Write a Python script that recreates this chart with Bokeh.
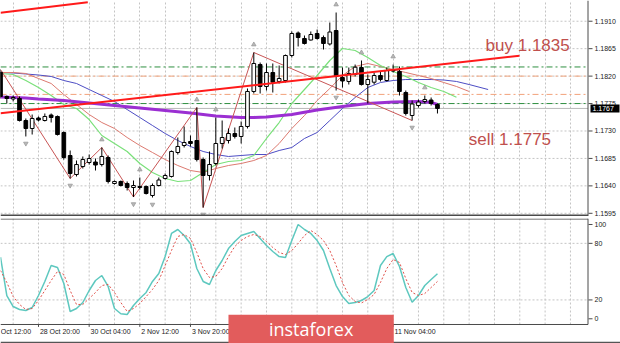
from bokeh.plotting import figure
from bokeh.models import Range1d, FixedTicker
from bokeh.layouts import column
from bokeh.embed import file_html
from bokeh.resources import INLINE
from bokeh.core.properties import value

# ---------------- data (EURUSD H4) ----------------
bars = list(range(-6, 64))
opens = [1.18264, 1.17866, 1.17825, 1.17833, 1.17472, 1.17341, 1.17513, 1.17472, 1.17562, 1.17538,
         1.17275, 1.16898, 1.16586, 1.16718, 1.16783, 1.16791, 1.16750, 1.16865, 1.16439, 1.16472,
         1.16439, 1.16373, 1.16390, 1.16390, 1.16242, 1.16406, 1.16521, 1.16554, 1.16947, 1.17062,
         1.17128, 1.17144, 1.16832, 1.16570, 1.16767, 1.17095, 1.17144, 1.17259, 1.17210, 1.17374,
         1.17948, 1.18390, 1.18030, 1.18259, 1.18112, 1.18128, 1.18538, 1.18907, 1.18817, 1.18792,
         1.18899, 1.18833, 1.18727, 1.18948, 1.18177, 1.18112, 1.18226, 1.18341, 1.18062, 1.18100,
         1.18210, 1.18128, 1.18308, 1.18276, 1.17931, 1.17554, 1.17718, 1.17784, 1.17808, 1.17734]
highs = [1.18308, 1.17882, 1.17882, 1.17866, 1.17505, 1.17570, 1.17538, 1.17587, 1.17587, 1.17554,
         1.17292, 1.16980, 1.16816, 1.16882, 1.16914, 1.16849, 1.17029, 1.16898, 1.16488, 1.16488,
         1.16472, 1.16488, 1.16537, 1.16406, 1.16439, 1.16537, 1.16603, 1.16980, 1.17193, 1.17374,
         1.17226, 1.17685, 1.16865, 1.16964, 1.17521, 1.17472, 1.17341, 1.17357, 1.17456, 1.17997,
         1.18587, 1.18423, 1.18407, 1.18407, 1.18374, 1.18554, 1.18932, 1.18932, 1.18866, 1.18932,
         1.18964, 1.18866, 1.19079, 1.19243, 1.18341, 1.18341, 1.18390, 1.18456, 1.18226, 1.18259,
         1.18276, 1.18341, 1.18390, 1.18358, 1.17964, 1.17800, 1.17816, 1.17882, 1.17849, 1.17751]
lows = [1.17833, 1.17751, 1.17784, 1.17456, 1.17210, 1.17242, 1.17456, 1.17456, 1.17439, 1.17226,
        1.16832, 1.16521, 1.16554, 1.16685, 1.16750, 1.16652, 1.16718, 1.16439, 1.16422, 1.16390,
        1.16324, 1.16217, 1.16340, 1.16258, 1.16209, 1.16390, 1.16504, 1.16537, 1.16914, 1.17029,
        1.17046, 1.16800, 1.16045, 1.16488, 1.16734, 1.17013, 1.17095, 1.17177, 1.17095, 1.17341,
        1.17915, 1.17915, 1.17964, 1.17931, 1.18079, 1.18095, 1.18505, 1.18686, 1.18718, 1.18784,
        1.18800, 1.18636, 1.18702, 1.17964, 1.18013, 1.18062, 1.18194, 1.18046, 1.17751, 1.18062,
        1.18112, 1.18112, 1.18259, 1.17882, 1.17554, 1.17472, 1.17685, 1.17751, 1.17718, 1.17587]
closes = [1.17866, 1.17833, 1.17849, 1.17472, 1.17341, 1.17505, 1.17480, 1.17538, 1.17521, 1.17242,
          1.16865, 1.16603, 1.16750, 1.16832, 1.16849, 1.16742, 1.16882, 1.16472, 1.16472, 1.16406,
          1.16373, 1.16406, 1.16373, 1.16275, 1.16406, 1.16496, 1.16570, 1.16964, 1.17046, 1.17111,
          1.17095, 1.16832, 1.16570, 1.16750, 1.17095, 1.17193, 1.17259, 1.17210, 1.17374, 1.17948,
          1.18407, 1.18030, 1.18259, 1.18100, 1.18161, 1.18538, 1.18899, 1.18833, 1.18735, 1.18882,
          1.18817, 1.18735, 1.18923, 1.18194, 1.18120, 1.18243, 1.18346, 1.18062, 1.18144, 1.18210,
          1.18144, 1.18292, 1.18284, 1.17948, 1.17587, 1.17743, 1.17775, 1.17816, 1.17751, 1.17670]

# Alligator (lips / teeth / jaw, shifted forward) and slow MA
lips_bars = [-6, -4, -2, 0, 2, 4, 6, 8, 10, 12, 14, 16, 18, 20, 22, 24, 26, 28, 30, 32, 34, 36,
             38, 40, 42, 44, 46, 48, 50, 52, 54, 56, 58, 60, 62, 64, 66]
lips = [1.18243, 1.18226, 1.18128, 1.18013, 1.17882, 1.17734, 1.17669, 1.17488, 1.17226, 1.17095,
        1.16964, 1.16767, 1.16619, 1.16521, 1.16472, 1.16488, 1.16619, 1.16750, 1.16800, 1.16816,
        1.16898, 1.17177, 1.17439, 1.17751, 1.17980, 1.18210, 1.18456, 1.18653, 1.18620, 1.18505,
        1.18374, 1.18276, 1.18194, 1.18095, 1.18013, 1.17948, 1.17854]
teeth_bars = [-6, -4, -2, 0, 2, 4, 6, 8, 10, 12, 14, 16, 18, 20, 22, 24, 26, 28, 30, 32, 34, 36,
              38, 40, 42, 44, 46, 48, 50, 52, 54, 56, 58, 60, 62, 64, 66, 68]
teeth = [1.18259, 1.18259, 1.18243, 1.18161, 1.18079, 1.17898, 1.17734, 1.17570, 1.17439, 1.17341,
         1.17193, 1.17062, 1.16947, 1.16832, 1.16734, 1.16652, 1.16619, 1.16685, 1.16734, 1.16767,
         1.16816, 1.16898, 1.17095, 1.17341, 1.17554, 1.17800, 1.17997, 1.18210, 1.18358, 1.18407,
         1.18358, 1.18308, 1.18259, 1.18210, 1.18161, 1.18095, 1.18030, 1.17948]
jaw_bars = [-6, -4, -2, 0, 2, 4, 6, 8, 10, 12, 14, 16, 18, 20, 22, 24, 26, 28, 30, 32, 34, 36,
            38, 40, 42, 44, 46, 48, 50, 52, 54, 56, 58, 60, 62, 64, 66, 68, 71]
jaw = [1.18259, 1.18251, 1.18235, 1.18218, 1.18194, 1.18128, 1.18079, 1.17980, 1.17882, 1.17784,
       1.17652, 1.17521, 1.17390, 1.17259, 1.17144, 1.17046, 1.16964, 1.16914, 1.16882, 1.16898,
       1.16914, 1.16914, 1.16980, 1.17029, 1.17177, 1.17275, 1.17472, 1.17669, 1.17849, 1.18013,
       1.18095, 1.18128, 1.18144, 1.18144, 1.18144, 1.18136, 1.18112, 1.18062, 1.17980]
ma_bars = [-6, -2, 0, 4, 8, 12, 16, 20, 24, 28, 32, 34, 36, 40, 44, 48, 52, 56, 60, 62, 63]
ma_slow = [1.17857, 1.17841, 1.17825, 1.17800, 1.17759, 1.17718, 1.17677, 1.17636, 1.17595, 1.17546,
           1.17521, 1.17521, 1.17529, 1.17570, 1.17644, 1.17702, 1.17751, 1.17775, 1.17784, 1.17767,
           1.17734]

zz_bars = [-6, 5, 10, 15, 25, 26, 34, 59]
zz_prices = [1.18308, 1.16521, 1.17029, 1.16217, 1.17685, 1.16045, 1.18587, 1.17472]

fractal_up = [10, 16, 25, 28, 34, 47, 51, 56, 61]
fractal_down = [-2, 5, 15, 18, 26, 47, 59]

trend_main_bars = [-6, 75.95]
trend_main_prices = [1.17592, 1.18533]
trend_top_bars = [-6, 7.78]
trend_top_prices = [1.19238, 1.19412]

green_levels = [1.1835, 1.1775]
orange_levels = [1.1820, 1.1790]
bid_price = 1.1767

# Stochastic %K / %D
stoch_k = [65.3, 24.7, 13, 9.9, 8.8, 12, 24.7, 39.6, 56.5, 54.4,
           37.4, 7.7, 10.9, 17.3, 30, 40.6, 45.9, 34.3, 10.9, 5.3,
           4.6, 14.1, 21.5, 27.9, 39.6, 48, 66, 90.5, 94.7, 88.3,
           79.5, 53.3, 39.6, 36.4, 51.2, 61.8, 74.5, 82, 88.3, 90.5,
           92.6, 85.2, 77.7, 71.4, 66, 65, 83, 100, 94.7, 90.5,
           83, 72.4, 53.3, 35.3, 23.6, 16.2, 17.3, 19.4, 23.6, 30,
           56.5, 66, 69.2, 55.5, 33.2, 17.6, 24.7, 35.3, 41.7, 47.7]
stoch_d = [51.2, 38.5, 23.6, 15.2, 9.9, 10.9, 19.4, 30, 40.6, 50.2,
           47, 30, 15.2, 15.2, 21.5, 27.9, 35.3, 36.4, 27.9, 17.3,
           7.7, 10.9, 16.2, 23.6, 31.1, 40.6, 56.5, 72.4, 87.3, 89.4,
           85.2, 70.3, 53.3, 43.8, 44.9, 53.3, 66, 76.7, 83, 87.3,
           89.4, 87.3, 82, 75.6, 70.3, 68.2, 72.4, 79.9, 88.3, 93.6,
           89.4, 83, 72.4, 56.5, 38.5, 24.7, 18.3, 16.8, 20.5, 25.8,
           38.5, 53.3, 62.9, 59.7, 42.7, 27.9, 24.7, 26.8, 33.2, 39.6]

time_tick_bars = [-8, 0, 8, 16, 24, 32, 40, 48, 56]
time_tick_labels = ["Oct 12:00", "28 Oct 20:00", "30 Oct 04:00", "2 Nov 12:00", "3 Nov 20:00",
                    "5 Nov 04:00", "6 Nov 12:00", "9 Nov 20:00", "11 Nov 04:00"]
grid_bars = list(range(-4, 88, 4))
price_ticks = [1.1595, 1.1640, 1.1685, 1.1730, 1.1775, 1.1820, 1.1865, 1.1910]
price_tick_labels = ["1.1595", "1.1640", "1.1685", "1.1730", "1.1775", "1.1820", "1.1865", "1.1910"]
stoch_ticks = [0, 20, 80, 100]
stoch_tick_labels = ["0", "20", "80", "100"]
stoch_levels = [20, 80]

# ---------------- geometry / styling ----------------
FONT = "Liberation Sans"
GRID = "#c4c4c4"
BORDER = "#4a4a4a"
PX = 6.3328                     # pixels per bar
X0 = -6.0                       # left edge of the canvas (bar units)
X1 = X0 + 620 / PX              # right edge of the canvas
XB = X0 + 587.5 / PX            # right border of the chart panels
XT0, XT1 = X0 + 588 / PX, X0 + 592 / PX   # price-axis tick marks
XL = X0 + 594 / PX              # price-axis labels
xr = Range1d(X0, X1)
PY = 0.000164                   # price per pixel
P_TOP = 1.19440

# ---------------- main price panel ----------------
p = figure(width=620, height=216, x_range=xr, y_range=Range1d(P_TOP - 216 * PY, P_TOP),
           x_axis_location=None, y_axis_location=None, toolbar_location=None,
           output_backend="svg", min_border_left=0, min_border_right=0,
           min_border_top=0, min_border_bottom=0)
p.outline_line_color = None
p.background_fill_color = "white"
p.xgrid.ticker = FixedTicker(ticks=grid_bars)
p.xgrid.grid_line_color = GRID
p.xgrid.grid_line_dash = "2 2"
p.ygrid.visible = False
n = len(price_ticks)
p.segment(x0=[X0] * n, y0=price_ticks, x1=[XB] * n, y1=price_ticks,
          line_color=GRID, line_dash="2 2", line_width=1)

# level lines
p.segment(x0=[X0] * 2, y0=orange_levels, x1=[XB] * 2, y1=orange_levels,
          line_color="#f2a27a", line_width=1, line_dash="6 3 2 3")
p.segment(x0=[X0] * 2, y0=green_levels, x1=[XB] * 2, y1=green_levels,
          line_color="#2f9040", line_width=1, line_dash="6 3 2 3")
p.segment(x0=[X0], y0=[bid_price], x1=[XB], y1=[bid_price], line_color="#b8b8b8", line_width=1)

# alligator + slow MA + zigzag
p.line(jaw_bars, jaw, line_color="#4d4dc4", line_width=1)
p.line(teeth_bars, teeth, line_color="#dc7a70", line_width=1)
p.line(lips_bars, lips, line_color="#7ae07a", line_width=1.2)
p.line(ma_bars, ma_slow, line_color="#9b2fd2", line_width=3.2)
p.line(zz_bars, zz_prices, line_color="#c85555", line_width=1)

# candles
up = [c >= o for o, c in zip(opens, closes)]
body_top = [max(o, c) for o, c in zip(opens, closes)]
body_bot = [min(o, c) for o, c in zip(opens, closes)]
fills = ["white" if u else "black" for u in up]
p.segment(x0=bars, y0=lows, x1=bars, y1=highs, line_color="black", line_width=1)
p.vbar(x=bars, width=0.58, top=body_top, bottom=body_bot, fill_color=fills,
       line_color="black", line_width=1)

# trend lines
p.line(trend_main_bars, trend_main_prices, line_color="#ff1a1a", line_width=2)
p.line(trend_top_bars, trend_top_prices, line_color="#ff1a1a", line_width=2)

# fractals
hi_of = dict(zip(bars, highs))
lo_of = dict(zip(bars, lows))
p.scatter(x=fractal_up, y=[hi_of[b] + 0.0013 for b in fractal_up], marker="triangle",
          size=4.5, fill_color="#b8b8b8", line_color="#9c9c9c", line_width=0.8)
p.scatter(x=fractal_down, y=[lo_of[b] - 0.00115 for b in fractal_down], marker="inverted_triangle",
          size=4.5, fill_color="#b8b8b8", line_color="#9c9c9c", line_width=0.8)

# annotations
p.text(x=[70.6], y=[1.18702], text=["buy 1.1835"], text_font=value(FONT),
       text_font_size="17px", text_color="#c0504d", text_baseline="alphabetic")
p.text(x=[67.95], y=[1.17156], text=["sell 1.1775"], text_font=value(FONT),
       text_font_size="17px", text_color="#c0504d", text_baseline="alphabetic")

# panel borders
p.segment(x0=[X0], y0=[P_TOP - 215 * PY], x1=[XB], y1=[P_TOP - 215 * PY],
          line_color=BORDER, line_width=2)
p.segment(x0=[XB], y0=[P_TOP - 216 * PY], x1=[XB], y1=[P_TOP], line_color=BORDER, line_width=1)

# price scale
p.segment(x0=[XT0] * n, y0=price_ticks, x1=[XT1] * n, y1=price_ticks, line_color=BORDER, line_width=1)
p.text(x=[XL] * n, y=price_ticks, text=price_tick_labels, text_font=value(FONT),
       text_font_size="7px", text_color="#222222", text_align="left", text_baseline="middle")
p.quad(left=[X0 + 590 / PX], right=[X0 + 619 / PX], top=[bid_price + 4 * PY],
       bottom=[bid_price - 4 * PY], fill_color="black", line_color=None)
p.text(x=[X0 + 592 / PX], y=[bid_price], text=["1.1767"], text_font=value(FONT),
       text_font_size="7px", text_color="white", text_align="left", text_baseline="middle")

# ---------------- stochastic panel ----------------
S_TOP, S_BOT_FRAME, S_BOT = 106.36, -6.04, -26.2
s = figure(width=620, height=127, x_range=xr, y_range=Range1d(S_BOT, S_TOP),
           x_axis_location=None, y_axis_location=None, toolbar_location=None,
           output_backend="svg", min_border_left=0, min_border_right=0,
           min_border_top=2, min_border_bottom=0)
s.outline_line_color = None
s.background_fill_color = "white"
s.grid.visible = False
m = len(grid_bars)
s.segment(x0=grid_bars, y0=[S_BOT_FRAME] * m, x1=grid_bars, y1=[S_TOP] * m,
          line_color=GRID, line_dash="2 2", line_width=1)
s.segment(x0=[X0] * 2, y0=stoch_levels, x1=[XB] * 2, y1=stoch_levels,
          line_color=GRID, line_dash="2 2", line_width=1)

s.line(bars, stoch_k, line_color="#5ec8bf", line_width=1.5)
s.line(bars, stoch_d, line_color="#e0504a", line_width=1, line_dash="2 2")

# panel borders
s.segment(x0=[X0], y0=[105.8], x1=[XB], y1=[105.8], line_color=BORDER, line_width=1)
s.segment(x0=[X0], y0=[S_BOT_FRAME], x1=[XB], y1=[S_BOT_FRAME], line_color=BORDER, line_width=1)
s.segment(x0=[XB], y0=[S_BOT_FRAME], x1=[XB], y1=[S_TOP], line_color=BORDER, line_width=1)
s.segment(x0=[X0], y0=[-25.2], x1=[X1], y1=[-25.2], line_color="#555555", line_width=1.5)

# stochastic scale
k = len(stoch_ticks)
s.segment(x0=[XT0] * k, y0=stoch_ticks, x1=[XT1] * k, y1=stoch_ticks, line_color=BORDER, line_width=1)
s.text(x=[XL] * k, y=stoch_ticks, text=stoch_tick_labels, text_font=value(FONT),
       text_font_size="7px", text_color="#222222", text_align="left", text_baseline="middle")

# time axis labels
t = len(time_tick_bars)
label_x = [X0 + 0.3 / PX] + [b + 0.22 for b in time_tick_bars[1:]]
s.segment(x0=time_tick_bars, y0=[S_BOT_FRAME] * t, x1=time_tick_bars,
          y1=[-8.6] * t, line_color=BORDER, line_width=1)
s.text(x=label_x, y=[-14.0] * t, text=time_tick_labels,
       text_font=value(FONT), text_font_size="7px", text_color="#222222",
       text_align="left", text_baseline="middle")

# watermark box
s.quad(left=[30.0], right=[56.1], top=[4.24], bottom=[-27.0], fill_color="#e25c5c", line_color=None)
s.text(x=[43.05], y=[-10.6], text=["instaforex"], text_font=value("Open Sans"),
       text_font_size="18px", text_color="white", text_align="center", text_baseline="middle")

layout = column(p, s)
open("out.html", "w").write(file_html(layout, INLINE))
